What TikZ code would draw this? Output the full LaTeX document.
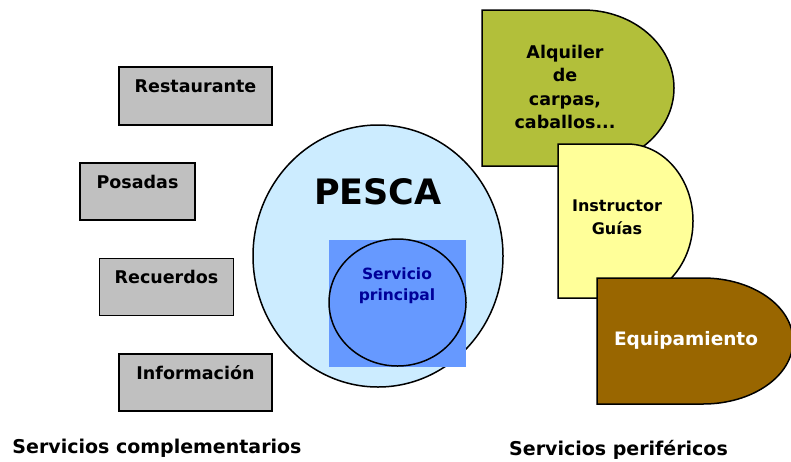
\documentclass[tikz,border=0pt]{standalone}
\usepackage{fontspec}
\setmainfont{DejaVu Sans}
\usetikzlibrary{calc,shapes.geometric}
\definecolor{grayfill}{HTML}{C0C0C0}
\definecolor{olive}{RGB}{178,191,58}
\definecolor{lyellow}{HTML}{FFFF99}
\definecolor{brownfill}{HTML}{996600}
\definecolor{lblue}{HTML}{CCECFF}
\definecolor{mblue}{HTML}{6699FF}
\definecolor{dblue}{HTML}{000099}
\begin{document}
\begin{tikzpicture}[x=1pt,y=-1pt,
  graybox/.style={draw=black, line width=1.5pt, fill=grayfill, rectangle, inner sep=0pt},
  boxtext/.style={font=\fontsize{17.5}{21}\selectfont\bfseries, inner sep=0pt},
  dshape/.style={draw=black, line width=1.5pt},
  dtext/.style={align=center, inner sep=0pt},
  caption/.style={font=\fontsize{19}{23}\selectfont\bfseries, inner sep=0pt}]
\useasboundingbox (0,0) rectangle (791,461);

% gray boxes
\node[graybox, minimum width=153pt, minimum height=58pt] (rest) at (195.5,96) {};
\node[boxtext] (restt) at ($(rest.north)+(0,19.5)$) {Restaurante};
\node[graybox, minimum width=115pt, minimum height=57pt] (pos) at (137.5,191.5) {};
\node[boxtext] (post) at ($(pos.north)+(0,19.5)$) {Posadas};
\node[graybox, minimum width=134pt, minimum height=57pt] (rec) at (166.5,287) {};
\node[boxtext] (rect) at ($(rec.north)+(0,19.5)$) {Recuerdos};
\node[graybox, minimum width=153pt, minimum height=57pt] (inf) at (195.5,382.5) {};
\node[boxtext] (inft) at ($(inf.north)+(0,19.5)$) {Información};

% central circle
\node[draw=black, line width=1.5pt, fill=lblue, ellipse, inner sep=0pt, minimum width=250pt, minimum height=262pt] (pesca) at (378,256) {};
\node[font=\fontsize{35}{40}\selectfont\bfseries, inner sep=0pt] (pescat) at (378,191.5) {PESCA};
\node[fill=mblue, rectangle, inner sep=0pt, minimum width=137pt, minimum height=127pt] (sq) at (397.5,303) {};
\node[draw=black, line width=1.5pt, ellipse, inner sep=0pt, minimum width=137pt, minimum height=127pt] (core) at (397.5,302.5) {};
\node[dtext, text=dblue, font=\fontsize{15.5}{20.7}\selectfont\bfseries] (coret) at (397,285.5) {Servicio\\principal};

% D shapes
\draw[dshape, fill=olive] (482,10) -- (583,10) arc[start angle=-90, end angle=90, x radius=91, y radius=78] -- (482,166) -- cycle;
\node[dtext, font=\fontsize{17.5}{23.5}\selectfont\bfseries] (alq) at (565,87) {Alquiler\\de\\carpas,\\caballos...};
\draw[dshape, fill=lyellow] (558,144) -- (627,144) arc[start angle=-90, end angle=90, x radius=66, y radius=77] -- (558,298) -- cycle;
\node[dtext, font=\fontsize{16}{23}\selectfont\bfseries] (ins) at (617,217.5) {Instructor\\Guías};
\draw[dshape, fill=brownfill] (597,278) -- (703,278) arc[start angle=-90, end angle=90, x radius=90, y radius=63] -- (597,404) -- cycle;
\node[dtext, text=white, font=\fontsize{18.5}{22}\selectfont\bfseries] (equ) at (686,340.5) {Equipamiento};

% captions
\node[caption] (capl) at (157,448) {Servicios complementarios};
\node[caption] (capr) at (618.5,450) {Servicios periféricos};
\end{tikzpicture}
\end{document}
